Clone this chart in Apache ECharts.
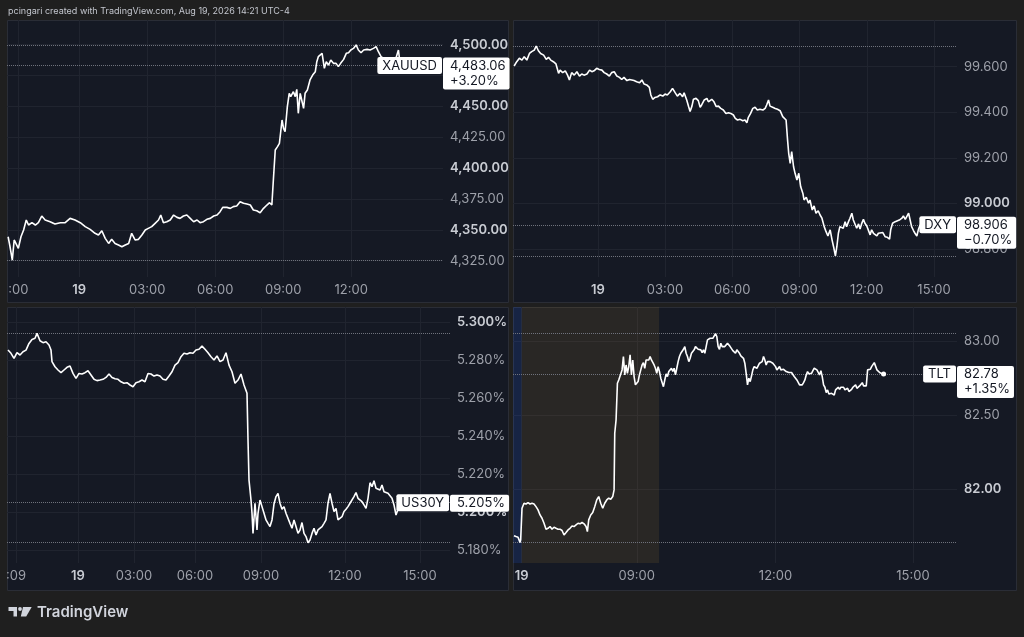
<!DOCTYPE html>
<html><head><meta charset="utf-8">
<script src="https://cdn.jsdelivr.net/npm/echarts@6.0.0/dist/echarts.min.js"></script>
<style>html,body{margin:0;padding:0;background:#1f1f1f;}#c{width:1024px;height:637px;}</style>
</head><body><div id="c"></div><script>
// ---------- DATA ----------
// XAUUSD: minutes from 00:00 on the 19th, price
const xauMin = [-188,-183,-177,-172,-167,-161,-154,-147,-140,-134,-125,-116,-108,-99,-90,-77,-64,-50,-37,-24,-11,3,16,29,42,51,60,69,78,86,95,104,113,122,131,139,148,157,166,175,183,192,201,210,216,223,232,241,250,259,267,276,285,294,303,312,320,329,338,347,356,365,373,380,391,400,408,417,426,435,444,453,461,470,479,488,497,504,510,514,519,525,530,537,541,545,551,556,560,567,572,576,580,585,589,594,598,604,611,618,625,629,633,638,643,649,654,660,666,673,680,686,692,700,707,713,719,726,733,739,746,753,762,770,779,786,792,799,806,815,823,832,839,845,850];
const xauVal = [4344.4,4336.3,4325.5,4341.8,4343.1,4335.0,4344.4,4349.9,4358.0,4353.9,4355.8,4353.9,4355.8,4361.2,4358.0,4356.6,4354.7,4355.8,4355.8,4359.3,4358.0,4355.8,4352.6,4350.4,4347.2,4345.8,4349.3,4343.1,4339.0,4342.3,4339.0,4337.7,4336.3,4337.7,4339.0,4347.2,4341.8,4342.3,4345.8,4349.9,4351.2,4352.6,4355.3,4358.0,4362.0,4355.8,4356.6,4358.0,4362.0,4360.1,4359.3,4361.2,4362.0,4359.3,4356.6,4358.0,4355.8,4356.6,4358.5,4359.3,4361.2,4362.0,4364.7,4368.2,4368.2,4367.4,4368.8,4369.3,4372.8,4371.5,4370.9,4370.1,4366.1,4365.5,4363.9,4367.4,4370.1,4372.0,4370.1,4390.4,4414.7,4417.4,4420.1,4439.0,4432.2,4429.5,4449.8,4460.6,4457.9,4461.9,4457.9,4463.8,4444.4,4460.6,4455.2,4448.4,4460.6,4463.3,4471.4,4475.4,4478.1,4486.2,4490.3,4488.9,4493.0,4480.8,4486.2,4483.5,4487.6,4484.9,4484.9,4482.2,4484.9,4488.1,4493.0,4493.5,4495.7,4497.0,4499.8,4495.7,4493.5,4495.7,4496.2,4495.7,4497.0,4498.4,4494.3,4490.3,4488.9,4488.1,4488.9,4488.1,4489.7,4495.7,4483.06];

// DXY: minutes from 00:00 on the 19th, index level
const dxyMin = [-224,-217,-210,-203,-197,-190,-183,-177,-170,-165,-159,-153,-145,-138,-132,-126,-119,-112,-105,-101,-94,-87,-81,-76,-70,-63,-56,-49,-43,-37,-29,-22,-16,-10,-3,4,11,17,24,31,37,44,51,58,64,70,78,85,91,97,104,112,118,124,131,138,142,147,153,160,167,174,180,186,194,200,207,213,220,227,231,238,243,247,252,256,263,269,274,278,285,292,296,301,305,311,317,323,329,336,343,350,356,363,368,374,381,388,394,399,403,409,415,421,427,434,442,448,452,457,461,468,475,481,488,495,499,504,508,511,515,519,524,528,533,538,543,549,552,558,564,568,574,579,584,590,595,600,606,611,616,622,627,632,636,640,644,648,653,657,662,666,671,675,680,684,689,693,698,702,706,711,715,720,724,729,733,738,742,747,751,756,763,769,775,781,784,789,796,800,807,814,818,823,827,832,836,840,845,849,854,858,863];
const dxyVal = [99.603,99.622,99.637,99.629,99.644,99.629,99.658,99.666,99.673,99.691,99.670,99.658,99.651,99.632,99.641,99.629,99.622,99.612,99.571,99.585,99.574,99.582,99.563,99.542,99.574,99.563,99.578,99.559,99.568,99.563,99.568,99.585,99.578,99.582,99.593,99.588,99.585,99.574,99.568,99.559,99.574,99.578,99.559,99.553,99.544,99.553,99.539,99.544,99.542,99.539,99.534,99.530,99.542,99.524,99.520,99.509,99.476,99.457,99.465,99.468,99.476,99.471,99.480,99.476,99.490,99.505,99.486,99.471,99.483,99.468,99.486,99.454,99.425,99.403,99.427,99.457,99.461,99.451,99.422,99.432,99.454,99.461,99.446,99.439,99.457,99.446,99.425,99.427,99.417,99.410,99.395,99.398,99.395,99.388,99.373,99.366,99.369,99.363,99.366,99.354,99.378,99.395,99.417,99.422,99.410,99.413,99.410,99.417,99.432,99.454,99.427,99.422,99.417,99.413,99.407,99.381,99.388,99.366,99.278,99.220,99.176,99.227,99.161,99.132,99.103,99.132,99.074,99.044,99.015,99.027,99.001,99.015,98.971,98.989,98.957,98.968,98.949,98.935,98.898,98.876,98.857,98.884,98.840,98.803,98.770,98.811,98.869,98.898,98.906,98.891,98.920,98.898,98.920,98.935,98.957,98.927,98.920,98.891,98.910,98.887,98.910,98.930,98.913,98.901,98.895,98.862,98.884,98.869,98.876,98.857,98.869,98.862,98.872,98.854,98.851,98.843,98.884,98.913,98.920,98.916,98.927,98.935,98.945,98.930,98.942,98.957,98.964,98.898,98.881,98.869,98.857,98.884,98.906];

// US30Y: bar position on the chart, yield %
const us30Bar = [0,3,6,9,12,15,18,21,24,27,29,32,35,38,41,43,44,47,50,53,56,59,62,65,68,71,74,77,80,83,86,89,92,95,98,101,104,107,110,113,116,119,122,125,128,131,134,137,140,143,146,149,152,155,158,161,164,167,170,173,176,179,182,185,188,191,194,197,200,203,206,209,212,215,218,221,224,227,230,233,236,238,239,240,241,243,244,245,247,249,250,252,254,256,258,260,262,264,266,268,270,272,274,276,278,280,282,284,286,288,290,292,294,296,298,300,302,304,306,308,310,312,314,316,318,320,322,324,326,328,330,332,334,336,338,340,342,344,346,348,350,352,354,356,358,360,362,364,366,368,370,372,374,376,378,380,382,384,386,388,390,392,394];
const us30Val = [5.2854,5.2837,5.2810,5.2840,5.2828,5.2845,5.2854,5.2889,5.2910,5.2916,5.2942,5.2903,5.2893,5.2898,5.2881,5.2854,5.2793,5.2766,5.2749,5.2735,5.2749,5.2763,5.2770,5.2731,5.2705,5.2731,5.2728,5.2735,5.2745,5.2723,5.2700,5.2693,5.2696,5.2700,5.2710,5.2728,5.2710,5.2703,5.2700,5.2687,5.2679,5.2682,5.2670,5.2661,5.2682,5.2687,5.2696,5.2687,5.2731,5.2728,5.2717,5.2723,5.2717,5.2700,5.2696,5.2717,5.2740,5.2775,5.2788,5.2819,5.2837,5.2833,5.2840,5.2837,5.2854,5.2858,5.2875,5.2858,5.2840,5.2819,5.2802,5.2823,5.2793,5.2802,5.2840,5.2775,5.2740,5.2679,5.2696,5.2728,5.2670,5.2661,5.2626,5.2380,5.2169,5.2064,5.1994,5.1888,5.2047,5.1906,5.1994,5.2064,5.2029,5.1994,5.1959,5.1941,5.1924,5.1959,5.2043,5.2082,5.2099,5.2047,5.2015,5.2029,5.1994,5.1985,5.1941,5.1915,5.1959,5.1924,5.1888,5.1906,5.1945,5.1888,5.1871,5.1839,5.1853,5.1888,5.1915,5.1880,5.1906,5.1915,5.1924,5.1941,5.1959,5.2047,5.2099,5.2047,5.2003,5.2020,5.1959,5.1968,5.1976,5.2003,5.2015,5.2029,5.2047,5.2050,5.2082,5.2103,5.2073,5.2082,5.2055,5.2038,5.2020,5.2073,5.2155,5.2134,5.2166,5.2126,5.2131,5.2117,5.2143,5.2108,5.2117,5.2099,5.2108,5.2073,5.2038,5.1985,5.2015,5.2057,5.205];

// TLT: bar position on the chart, price
const tltBar = [0,3,6,9,10,12,15,18,21,24,27,30,33,36,39,42,45,48,51,54,57,60,63,66,69,72,75,78,81,84,87,90,93,96,99,102,105,108,110,112,115,118,121,124,127,130,133,136,139,142,145,148,150,151,153,155,157,159,162,164,166,168,170,172,174,176,178,180,182,184,186,188,
190,192,194,196,198,200,202,204,206,208,210,212,214,216,218,220,222,224,226,228,230,232,234,236,238,240,242,244,246,248,250,252,254,256,258,260,262,264,266,268,270,272,274,276,278,280,282,284,286,288,290,292,294,296,298,300,302,304,306,308,310,312,314,316,318,320,322,324,326,328,330,332,334,336,338,340,342,344,346,348,350,352,354,356,358,360,362,364,366,368,370,372,374,376,378,380,382,384,386,388,390,392,394,396,398,400,402,404,406,408,410,412,414,416,418,420,422,424,426,428,430,432,434,436,438,440,442,444,446,448,450,452,454,456,458,460,462,464,466,468,470,472,474,476,478,480,482,484,486,488,490,492,494,496,498,500,502,504,506,508,510,512,514,516,518,520,522,524,526,528,530,532,534,536,538,540,542,544,546,548,550,552,554];
const tltVal = [81.688,81.683,81.679,81.643,81.661,81.874,81.908,81.903,81.912,81.903,81.908,81.903,81.885,81.863,81.829,81.807,81.773,81.733,81.739,81.751,81.733,81.746,81.739,81.733,81.733,81.724,81.694,81.710,81.728,81.739,81.755,81.751,81.762,81.773,81.769,81.778,81.769,81.751,81.717,81.796,81.829,81.845,81.885,81.930,81.953,81.908,81.874,81.908,81.930,81.942,81.935,81.953,81.998,82.380,82.470,82.717,82.739,82.751,82.807,82.897,82.773,82.840,82.784,82.829,82.908,82.773,82.874,82.762,82.706,82.717,82.728,82.773,
82.807,82.840,82.856,82.818,82.874,82.885,82.874,82.897,82.874,82.879,82.840,82.818,82.784,82.829,82.796,82.751,82.739,82.694,82.739,82.780,82.762,82.796,82.807,82.818,82.796,82.818,82.773,82.818,82.863,82.897,82.919,82.930,82.946,82.964,82.919,82.897,82.863,82.885,82.919,82.930,82.942,82.964,82.969,82.946,82.937,82.942,82.924,82.942,82.919,82.964,83.009,83.013,83.020,83.027,83.020,83.031,83.052,83.031,82.964,82.946,82.987,82.964,82.953,82.964,82.975,82.987,82.998,82.964,82.953,82.937,82.930,82.919,82.942,82.930,82.919,82.901,82.908,82.885,82.852,82.784,82.706,82.751,82.728,82.766,82.807,82.829,82.840,82.818,82.829,82.852,82.840,82.863,82.897,82.874,82.840,82.863,82.856,82.863,82.863,82.852,82.852,82.829,82.807,82.818,82.829,82.807,82.818,82.811,82.807,82.796,82.802,82.789,82.796,82.789,82.784,82.762,82.751,82.739,82.728,82.706,82.717,82.706,82.721,82.739,82.773,82.796,82.780,82.789,82.784,82.802,82.818,82.829,82.807,82.811,82.773,82.802,82.762,82.706,82.690,82.654,82.672,82.645,82.654,82.649,82.638,82.638,82.672,82.667,82.690,82.676,82.690,82.683,82.690,82.672,82.667,82.683,82.661,82.661,82.676,82.690,82.690,82.706,82.683,82.694,82.699,82.706,82.721,82.699,82.712,82.699,82.807,82.818,82.811,82.829,82.840,82.856,82.847,82.807,82.796,82.789,82.789,82.780,82.78];

// Time-axis tick labels
const xauTimeTicks = [-161, 0, 180, 360, 540, 720];
const xauTimeLabels = [':00', '19', '03:00', '06:00', '09:00', '12:00'];
const dxyTimeTicks = [0, 180, 360, 540, 720, 900];
const dxyTimeLabels = ['19', '03:00', '06:00', '09:00', '12:00', '15:00'];
const us30TimeTicks = [8, 70, 126, 187, 253, 337, 412];
const us30TimeLabels = [':09', '19', '03:00', '06:00', '09:00', '12:00', '15:00'];
const tltTimeTicks = [11.5, 184, 392, 598];
const tltTimeLabels = ['19', '09:00', '12:00', '15:00'];

// Price-axis tick labels
const xauPriceTicks = [4325, 4350, 4375, 4400, 4425, 4450, 4475, 4500];
const xauBoldTicks = [4350, 4400, 4450, 4500];
const dxyPriceTicks = [98.8, 99.0, 99.2, 99.4, 99.6];
const dxyBoldTicks = [99.0];
const us30PriceTicks = [5.18, 5.20, 5.22, 5.24, 5.26, 5.28, 5.30];
const us30BoldTicks = [5.20, 5.30];
const tltPriceTicks = [82.0, 82.5, 83.0];
const tltBoldTicks = [82.0];

const symbols = ['XAUUSD', 'DXY', 'US30Y', 'TLT'];
const changes = ['+3.20%', '\u22120.70%', '', '+1.35%'];
const tltSessionBars = [-1.5, 11.5, 217.5]; // post-market | pre-market | regular session start

// ---------- LAYOUT ----------
const FONT = 'Inter, "Noto Sans", Roboto, sans-serif';
const panels = [
  {x: 7,   y: 20,  w: 502, h: 283, grid: {left: 7,   top: 20,  width: 436, height: 257}, xr: [-191, 963],   yr: [4311.8, 4520]},
  {x: 513, y: 20,  w: 504, h: 283, grid: {left: 513, top: 20,  width: 444, height: 257}, xr: [-227, 961.5], yr: [98.677, 99.805]},
  {x: 7,   y: 307, w: 502, h: 284, grid: {left: 7,   top: 307, width: 443, height: 256}, xr: [-1, 442],     yr: [5.1732, 5.3081]},
  {x: 513, y: 307, w: 504, h: 284, grid: {left: 513, top: 307, width: 444, height: 256}, xr: [-1.5, 664],   yr: [81.505, 83.231]}
];
const priceFmt = [
  v => v.toLocaleString('en-US', {minimumFractionDigits: 2, maximumFractionDigits: 2}),
  v => v.toFixed(3),
  v => v.toFixed(3) + '%',
  v => v.toFixed(2)
];
const xs = [xauMin, dxyMin, us30Bar, tltBar];
const ys = [xauVal, dxyVal, us30Val, tltVal];
const timeTicks = [xauTimeTicks, dxyTimeTicks, us30TimeTicks, tltTimeTicks];
const timeLabels = [xauTimeLabels, dxyTimeLabels, us30TimeLabels, tltTimeLabels];
const priceTicks = [xauPriceTicks, dxyPriceTicks, us30PriceTicks, tltPriceTicks];
const boldTicks = [xauBoldTicks, dxyBoldTicks, us30BoldTicks, tltBoldTicks];

const GRIDLINE = '#20242f';
const richLbl = {
  n: {color: '#9ea1aa', fontSize: 13, fontFamily: FONT},
  b: {color: '#c9ccd3', fontSize: 13, fontFamily: FONT, fontWeight: 600}
};

const grids = [], xAxes = [], yAxes = [], series = [];
panels.forEach((p, i) => {
  grids.push(Object.assign({containLabel: false, outerBoundsMode: 'none'}, p.grid));
  xAxes.push({
    type: 'value', gridIndex: i, min: p.xr[0], max: p.xr[1],
    axisLine: {show: false},
    axisTick: {show: false, customValues: timeTicks[i]},
    splitLine: {show: true, lineStyle: {color: GRIDLINE, width: 1}},
    axisLabel: {
      customValues: timeTicks[i], margin: 7,
      formatter: v => {
        const k = timeTicks[i].findIndex(t => Math.abs(t - v) < 1e-6);
        const s = k >= 0 ? timeLabels[i][k] : '';
        return s === '19' ? '{b|' + s + '}' : '{n|' + s + '}';
      },
      rich: richLbl
    }
  });
  yAxes.push({
    type: 'value', gridIndex: i, position: 'right', min: p.yr[0], max: p.yr[1],
    axisLine: {show: false},
    axisTick: {show: false, customValues: priceTicks[i]},
    splitLine: {show: true, lineStyle: {color: GRIDLINE, width: 1}},
    axisLabel: {
      customValues: priceTicks[i], margin: 7,
      formatter: v => {
        const s = priceFmt[i](v);
        return boldTicks[i].some(b => Math.abs(b - v) < 1e-6) ? '{b|' + s + '}' : '{n|' + s + '}';
      },
      rich: richLbl
    }
  });
  const vals = ys[i];
  const last = vals[vals.length - 1];
  const s = {
    type: 'line', xAxisIndex: i, yAxisIndex: i,
    data: xs[i].map((x, k) => [x, vals[k]]),
    showSymbol: false, symbol: 'none', silent: true, animation: false, clip: true,
    lineStyle: {color: '#ffffff', width: 1.6},
    z: 5,
    markLine: {
      silent: true, symbol: ['none', 'none'], label: {show: false}, animation: false,
      precision: 6,
      lineStyle: {color: '#6f727c', type: 'dotted', width: 1},
      data: [{yAxis: Math.max(...vals)}, {yAxis: Math.min(...vals)}, {yAxis: last}]
    }
  };
  if (i === 3) {
    s.markArea = {
      silent: true, animation: false,
      data: [
        [{xAxis: tltSessionBars[0], itemStyle: {color: 'rgba(41,98,255,0.15)'}}, {xAxis: tltSessionBars[1]}],
        [{xAxis: tltSessionBars[1], itemStyle: {color: 'rgba(160,120,50,0.15)'}}, {xAxis: tltSessionBars[2]}]
      ]
    };
    s.markPoint = {
      silent: true, animation: false, symbol: 'circle', symbolSize: 5,
      itemStyle: {color: '#ffffff'}, label: {show: false},
      data: [{coord: [xs[i][xs[i].length - 1], last]}]
    };
  }
  series.push(s);
});

const LOGO = '#d1d4dc';
const baseGraphics = [];
panels.forEach((p, i) => {
  baseGraphics.push({
    type: 'rect', id: 'panel' + i, z: -10, silent: true,
    shape: {x: p.x + 0.5, y: p.y + 0.5, width: p.w - 1, height: p.h - 1},
    style: {fill: '#151924', stroke: '#2a2d36', lineWidth: 1}
  });
});
baseGraphics.push({
  type: 'text', id: 'hdr', silent: true, x: 8, y: 11,
  style: {text: 'pcingari created with TradingView.com, Aug 19, 2026 14:21 UTC-4', fill: '#c3c6ce', font: '9px ' + FONT, verticalAlign: 'middle'}
});
baseGraphics.push({
  type: 'group', id: 'logo', silent: true, x: 0, y: 0,
  children: [
    {type: 'rect', shape: {x: 8.5, y: 607, width: 8.5, height: 4}, style: {fill: LOGO}},
    {type: 'rect', shape: {x: 13.5, y: 607, width: 3.5, height: 9.5}, style: {fill: LOGO}},
    {type: 'circle', shape: {cx: 20, cy: 609, r: 1.9}, style: {fill: LOGO}},
    {type: 'polygon', shape: {points: [[23, 607], [31.7, 607], [26.2, 616.5], [20.8, 616.5]]}, style: {fill: LOGO}},
    {type: 'text', x: 37, y: 612.5, style: {text: 'TradingView', fill: LOGO, font: '600 15px ' + FONT, verticalAlign: 'middle'}}
  ]
});

const chart = echarts.init(document.getElementById('c'), null, {renderer: 'canvas', width: 1024, height: 637});
chart.setOption({
  backgroundColor: '#1f1f1f',
  animation: false,
  grid: grids, xAxis: xAxes, yAxis: yAxes, series: series,
  graphic: baseGraphics
});

// price tags, positioned through each grid's own scale
const tagGraphics = [];
panels.forEach((p, i) => {
  const vals = ys[i];
  const last = vals[vals.length - 1];
  const lastX = xs[i][xs[i].length - 1];
  const py = chart.convertToPixel({gridIndex: i}, [lastX, last])[1];
  const plotRight = p.grid.left + p.grid.width;
  tagGraphics.push({
    type: 'text', id: 'name' + i, z: 100, silent: true, x: plotRight - 1, y: py,
    style: {text: symbols[i], fill: '#131722', font: '13px ' + FONT, backgroundColor: '#ffffff',
      padding: [2, 5, 1, 5], lineHeight: 14, borderRadius: 2, align: 'right', verticalAlign: 'middle'}
  });
  const txt = priceFmt[i](last) + (changes[i] ? '\n' + changes[i] : '');
  tagGraphics.push({
    type: 'text', id: 'val' + i, z: 100, silent: true, x: plotRight, y: py - 8,
    style: {text: txt, fill: '#131722', font: '13px ' + FONT, backgroundColor: '#ffffff',
      padding: [1, 4, 1, 7], lineHeight: 15,
      borderRadius: 2, align: 'left', verticalAlign: 'top'}
  });
});
chart.setOption({graphic: baseGraphics.concat(tagGraphics)});
</script></body></html>
